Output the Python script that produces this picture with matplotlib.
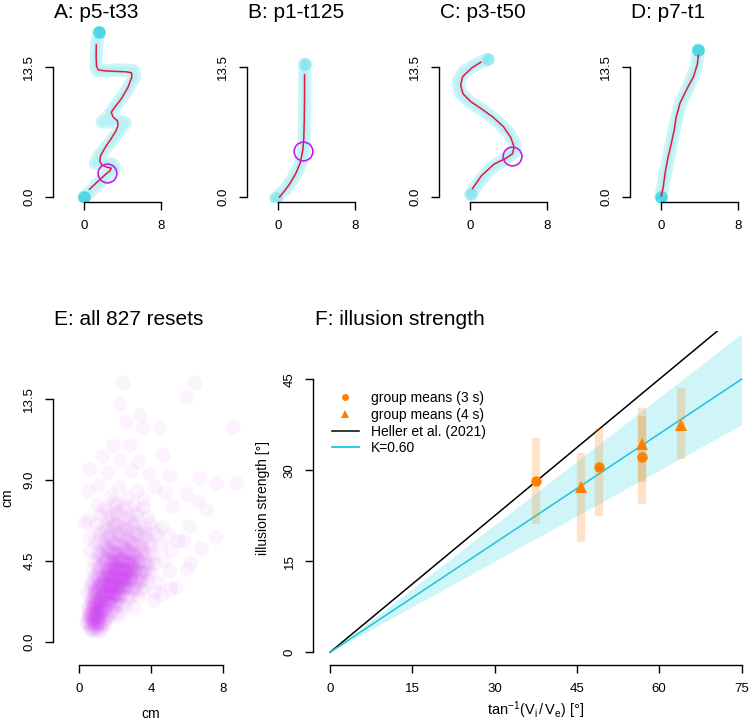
import matplotlib.pyplot as plt
import numpy as np
from matplotlib.lines import Line2D
from matplotlib.colors import to_rgb

plt.rcParams['font.family'] = ['Liberation Sans', 'DejaVu Sans']
plt.rcParams['mathtext.fontset'] = 'custom'
plt.rcParams['mathtext.rm'] = 'Liberation Sans'
plt.rcParams['mathtext.it'] = 'Liberation Sans:italic'

W, H = 750, 721

# ---- panels A-D: single trajectories (cm) ----
titles = ["A: p5-t33", "B: p1-t125", "C: p3-t50", "D: p7-t1"]

raw_a_x = [1.56, 1.35, 1.3, 1.25, 1.4, 2.5, 3.8, 5.2, 5.3, 4.8, 4.0, 3.2, 2.5, 1.9, 2.6, 3.6, 4.3, 3.8, 3.0, 2.2, 1.4, 1.2, 2.0, 3.0, 3.2, 2.5, 1.5, 0.7, 0.0]
raw_a_y = [17.1, 16.0, 14.5, 13.5, 13.1, 13.15, 13.2, 13.1, 12.5, 11.6, 10.4, 9.3, 8.3, 7.8, 7.8, 7.9, 7.7, 7.0, 6.0, 5.0, 4.0, 3.5, 3.5, 3.4, 3.0, 2.3, 1.4, 0.6, 0.0]
smooth_a_x = [1.3, 1.28, 1.32, 1.5, 2.2, 3.3, 4.4, 4.95, 5.0, 4.6, 3.9, 3.2, 2.85, 3.05, 3.5, 3.55, 3.3, 2.8, 2.2, 1.75, 1.65, 1.9, 2.4, 2.85, 2.7, 2.2, 1.5, 0.9, 0.6]
smooth_a_y = [15.8, 14.6, 13.6, 13.2, 13.1, 13.05, 13.0, 12.9, 12.5, 11.4, 10.2, 9.3, 8.8, 8.3, 7.9, 7.4, 6.8, 6.0, 5.1, 4.3, 3.7, 3.3, 3.1, 3.0, 2.7, 2.3, 1.65, 1.1, 0.8]

raw_b_x = [2.78, 2.8, 2.8, 2.75, 2.6, 2.2, 1.5, 0.7, -0.2]
raw_b_y = [13.8, 12.0, 9.0, 6.0, 4.3, 3.0, 1.8, 0.7, -0.1]
smooth_b_x = [2.78, 2.78, 2.75, 2.7, 2.6, 2.35, 1.9, 1.2, 0.6, 0.17]
smooth_b_y = [12.7, 10.5, 8.0, 6.0, 4.9, 3.6, 2.5, 1.3, 0.5, 0.0]

raw_c_x = [1.84, 0.7, -0.6, -1.2, -1.0, 0.1, 1.4, 2.8, 4.0, 4.7, 4.6, 3.6, 2.2, 1.0, 0.1]
raw_c_y = [14.3, 13.8, 13.0, 12.0, 10.8, 9.8, 9.0, 7.9, 6.7, 5.5, 4.6, 3.9, 3.0, 1.6, 0.3]
smooth_c_x = [1.15, 0.2, -0.75, -0.95, -0.7, 0.1, 1.15, 2.4, 3.5, 4.25, 4.6, 4.45, 3.8, 2.5, 1.2, 0.28]
smooth_c_y = [14.0, 13.4, 12.5, 11.6, 10.7, 9.9, 9.2, 8.3, 7.3, 6.2, 5.2, 4.5, 4.05, 3.4, 2.2, 0.87]

raw_d_x = [3.9, 3.7, 2.9, 2.0, 1.5, 1.1, 0.7, 0.3, 0.0]
raw_d_y = [15.3, 13.5, 11.5, 9.6, 7.5, 5.5, 3.5, 1.5, 0.0]
smooth_d_x = [3.9, 3.8, 3.4, 2.7, 2.0, 1.6, 1.4, 1.1, 0.75, 0.45, 0.25, 0.05]
smooth_d_y = [14.7, 13.8, 12.5, 11.2, 9.75, 8.3, 7.0, 5.6, 4.1, 2.5, 1.0, 0.1]

reset_pts = [(2.43, 2.5), (2.61, 4.8), (4.35, 4.3), None]
end_alpha = [1.0, 0.4, 0.4, 1.0]

# ---- panel E: reset locations (cm), clustered with number of resets per spot ----
reset_x = [0.75, 1.08, 0.55, 0.92, 1.27, 0.68, 1.05, 1.47, 0.62, 0.93, 1.33, 1.78, 2.12, 0.82, 1.18, 1.62, 2.03, 2.48, 3.05,
           0.57, 0.98, 1.43, 1.87, 2.22, 2.73, 3.28, 4.12,
           0.78, 1.22, 1.68, 2.13, 2.52, 3.03, 3.47, 4.22, 5.08,
           1.03, 1.47, 1.88, 2.37, 2.78, 3.27, 3.68, 4.42,
           0.72, 1.18, 1.67, 2.08, 2.57, 2.98, 3.47, 3.88, 5.03, 5.97,
           0.97, 1.43, 1.92, 2.33, 2.82, 3.23, 3.72, 4.18, 4.73,
           0.62, 1.17, 1.68, 2.07, 2.63, 3.02, 3.53, 3.97, 5.12,
           1.02, 1.42, 1.93, 2.38, 2.92, 3.38, 3.92, 4.48, 5.52,
           0.58, 1.22, 1.67, 2.23, 2.68, 3.22, 3.67, 4.23, 4.97,
           0.97, 1.53, 1.98, 2.52, 2.97, 3.53, 3.98, 4.62,
           0.52, 1.18, 1.73, 2.17, 2.73, 3.18, 3.82,
           1.03, 1.48, 2.02, 2.47, 3.03, 3.58,
           1.8, 2.7, 3.6,
           2.44, 6.43, 5.96, 2.26, 3.37, 2.63, 8.55, 4.48, 3.56, 1.89, 2.82, 4.67, 2.26, 0.59, 5.04, 6.7,
           8.74, 7.63, 1.3, 3.3, 1.6, 2.9, 3.9, 5.96, 7.08, 7.6, 6.15, 5.2, 6.2, 5.4, 0.5, 0.32, 4.2, 1.1,
           2.2, 3.2, 4.8, 6.6, 5.8, 6.8, 4.6]
reset_y = [0.75, 0.72, 1.07, 1.12, 1.03, 1.47, 1.52, 1.38, 1.87, 1.92, 1.83, 1.72, 1.48, 2.32, 2.28, 2.23, 2.13, 2.02, 1.88,
           2.72, 2.77, 2.68, 2.63, 2.62, 2.53, 2.52, 2.28,
           3.22, 3.13, 3.12, 3.08, 3.07, 2.98, 2.97, 2.78, 2.92,
           3.62, 3.58, 3.57, 3.48, 3.52, 3.43, 3.42, 3.28,
           4.02, 4.07, 3.98, 4.03, 3.93, 3.97, 3.88, 3.87, 3.92, 4.02,
           4.48, 4.52, 4.43, 4.47, 4.38, 4.42, 4.33, 4.32, 4.52,
           5.05, 4.88, 5.02, 4.85, 4.98, 4.8, 4.95, 4.75, 5.1,
           5.55, 5.3, 5.5, 5.28, 5.48, 5.25, 5.45, 5.35, 5.6,
           5.8, 6.05, 5.82, 6.0, 5.75, 6.02, 5.85, 6.05, 5.9,
           6.55, 6.3, 6.5, 6.28, 6.55, 6.3, 6.6, 6.35,
           6.8, 7.05, 6.82, 7.08, 6.8, 7.1, 6.9,
           7.6, 7.35, 7.65, 7.4, 7.62, 7.45,
           8.1, 8.0, 7.9,
           14.4, 14.4, 13.6, 13.2, 12.6, 12.2, 11.9, 11.9, 11.9, 10.9, 10.9, 10.4, 10.1, 9.6, 9.2, 9.1,
           8.8, 8.8, 10.3, 10.0, 9.4, 9.5, 9.3, 8.2, 7.3, 5.8, 6.4, 7.5, 4.4, 3.0, 8.4, 6.6, 8.6, 8.7,
           8.6, 8.4, 8.3, 7.8, 5.6, 5.2, 2.6]
reset_n = [5, 4, 5, 9, 5, 9, 10, 4, 4, 9, 8, 3, 2, 6, 10, 8, 5, 2, 1,
           2, 7, 10, 10, 6, 3, 1, 1,
           4, 9, 11, 11, 7, 4, 2, 1, 1,
           4, 8, 11, 11, 8, 4, 2, 1,
           1, 4, 8, 10, 11, 8, 4, 2, 1, 1,
           2, 5, 8, 9, 8, 5, 3, 1, 1,
           1, 3, 5, 6, 6, 5, 3, 2, 1,
           2, 3, 4, 4, 4, 3, 2, 1, 1,
           1, 2, 3, 3, 3, 3, 2, 2, 1,
           1, 2, 3, 3, 2, 2, 1, 1,
           1, 1, 2, 2, 2, 2, 1,
           1, 2, 2, 2, 1, 1,
           1, 1, 1,
           1, 1, 1, 1, 1, 1, 1, 1, 1, 1, 1, 1, 1, 1, 1, 1,
           1, 1, 1, 1, 1, 1, 1, 1, 1, 1, 1, 1, 1, 1, 1, 1, 1, 1,
           1, 1, 1, 1, 1, 1, 1]

# ---- panel F: illusion strength (deg) ----
angle_3s = [37.5, 49.0, 56.9]
strength_3s = [28.2, 30.5, 32.2]
low_3s = [21.1, 22.5, 24.4]
high_3s = [35.3, 36.9, 39.0]
angle_4s = [45.7, 56.9, 63.9]
strength_4s = [27.3, 34.3, 37.4]
low_4s = [18.2, 28.0, 31.8]
high_4s = [32.9, 40.2, 43.5]
line_x = [0, 75]
heller_slope = 0.75
k_fit, k_low, k_high = 0.60, 0.50, 0.70

cyan = '#00cee0'
dot_cyan = '#50d7e6'
red = '#e6193c'
purple = '#cc33f2'
orange = '#ff7f00'


def px_axes(fig, left, top, right, bottom):
    return fig.add_axes([left / W, 1 - bottom / H, (right - left) / W, (bottom - top) / H])


def r_axes(ax, xb, yb, xt, yt, xl, yl):
    ax.spines['top'].set_visible(False)
    ax.spines['right'].set_visible(False)
    ax.spines['left'].set_bounds(*yb)
    ax.spines['bottom'].set_bounds(*xb)
    ax.set_xticks(xt)
    ax.set_xticklabels(xl)
    ax.set_yticks(yt)
    ax.set_yticklabels(yl, rotation=90, va='center')
    ax.tick_params(length=5.8, width=1, pad=7, labelsize=9.5)
    for s in ['left', 'bottom']:
        ax.spines[s].set_linewidth(1)
    ax.patch.set_alpha(0)


def title(fig, x, y, text):
    fig.text(x / W, 1 - y / H, text, fontsize=15, va='baseline', ha='left')


fig = plt.figure(figsize=(7.5, 7.21), dpi=100)

raws = [(raw_a_x, raw_a_y), (raw_b_x, raw_b_y), (raw_c_x, raw_c_y), (raw_d_x, raw_d_y)]
smooths = [(smooth_a_x, smooth_a_y), (smooth_b_x, smooth_b_y), (smooth_c_x, smooth_c_y), (smooth_d_x, smooth_d_y)]
lefts = [53, 247, 439, 630]

for i in range(4):
    L = lefts[i]
    ax = px_axes(fig, L, 25.6, L + 112.6, 202)
    ax.set_xlim(-3.2, 8.5)
    ax.set_ylim(-0.52, 17.8)
    rx, ry = raws[i]
    sx, sy = smooths[i]
    ax.plot(rx, ry, color=cyan, alpha=0.2, lw=9.5, solid_capstyle='round', solid_joinstyle='round')
    ax.plot(rx, ry, color=cyan, alpha=0.1, lw=5, solid_capstyle='round', solid_joinstyle='round')
    ax.plot([rx[0], rx[-1]], [ry[0], ry[-1]], 'o', color=dot_cyan, alpha=end_alpha[i], ms=9, mew=0)
    ax.plot(sx, sy, color=red, lw=1.1)
    if reset_pts[i] is not None:
        ax.plot(*reset_pts[i], 'o', mfc='none', mec='#c21ee6', ms=13.5, mew=1.2)
    r_axes(ax, (0, 8), (0, 13.5), [0, 8], [0, 13.5], ['0', '8'], ['0.0', '13.5'])
    title(fig, L + 1, 18.3, titles[i])

# panel E
ax = px_axes(fig, 53, 331, 249, 665)
ax.set_xlim(-1.46, 9.43)
ax.set_ylim(-1.29, 17.28)
base = to_rgb(purple)
rx = np.array(reset_x)
ry = np.array(reset_y)
rn = np.array(reset_n)
single = rn == 1
ax.scatter(rx[single], ry[single], s=115, color=base, alpha=0.055, edgecolors='none')
# stacked spots: soft blobs, three nested discs whose overlap gives the total opacity
tot = 1 - (1 - 0.055) ** rn[~single]
layer = 1 - (1 - tot) ** (1 / 3)
cols = [(base[0], base[1], base[2], a) for a in layer]
for k in [1.7, 1.1, 0.6]:
    ax.scatter(rx[~single], ry[~single], s=115 * k, c=cols, edgecolors='none')
r_axes(ax, (0, 8), (0, 13.5), [0, 4, 8], [0, 4.5, 9, 13.5], ['0', '4', '8'], ['0.0', '4.5', '9.0', '13.5'])
title(fig, 54, 325, "E: all 827 resets")
fig.text(151 / W, 1 - 718 / H, "cm", fontsize=10, ha='center', va='baseline')
fig.text(7 / W, 1 - 498 / H, "cm", fontsize=10, ha='center', va='center', rotation=90)

# panel F
ax = px_axes(fig, 313.3, 330.7, 758, 665)
ax.set_xlim(-3.04, 78)
ax.set_ylim(-2.09, 53)
ax.fill_between(line_x, [k_low * v for v in line_x], [k_high * v for v in line_x], color=cyan, alpha=0.19, lw=0)
ax.plot(line_x, [heller_slope * v for v in line_x], color='black', lw=1.1)
ax.plot(line_x, [k_fit * v for v in line_x], color='#1cc6d8', lw=1.1)
ax.vlines(angle_3s, low_3s, high_3s, color=orange, alpha=0.22, lw=6)
ax.vlines(angle_4s, low_4s, high_4s, color=orange, alpha=0.22, lw=6)
ax.plot(angle_3s, strength_3s, 'o', color=orange, ms=7.5, mew=0)
ax.plot(angle_4s, strength_4s, '^', color=orange, ms=9, mew=0)
r_axes(ax, (0, 75), (0, 45), [0, 15, 30, 45, 60, 75], [0, 15, 30, 45],
       ['0', '15', '30', '45', '60', '75'], ['0', '15', '30', '45'])
title(fig, 315, 325, "F: illusion strength")
fig.text(536 / W, 1 - 715 / H, r'$\mathrm{tan^{-1}}\left(\mathrm{V_i\,/\,V_e}\right)$ [°]',
         fontsize=10.5, ha='center', va='baseline')
fig.text(263 / W, 1 - 498 / H, "illusion strength [°]", fontsize=10, ha='center', va='center', rotation=90)

handles = [Line2D([], [], ls='none', marker='o', color=orange, ms=5, mew=0),
           Line2D([], [], ls='none', marker='^', color=orange, ms=6, mew=0),
           Line2D([], [], color='black', lw=1.1),
           Line2D([], [], color='#1cc6d8', lw=1.3)]
labels = ["group means (3 s)", "group means (4 s)", "Heller et al. (2021)", "K=0.60"]
ax.legend(handles, labels, loc='upper left', bbox_to_anchor=(332 / W, 1 - 391 / H),
          bbox_transform=fig.transFigure, frameon=False, fontsize=10, handlelength=1.94,
          handletextpad=0.84, labelspacing=0.2, borderpad=0, borderaxespad=0)

fig.savefig('out.png', dpi=100)
